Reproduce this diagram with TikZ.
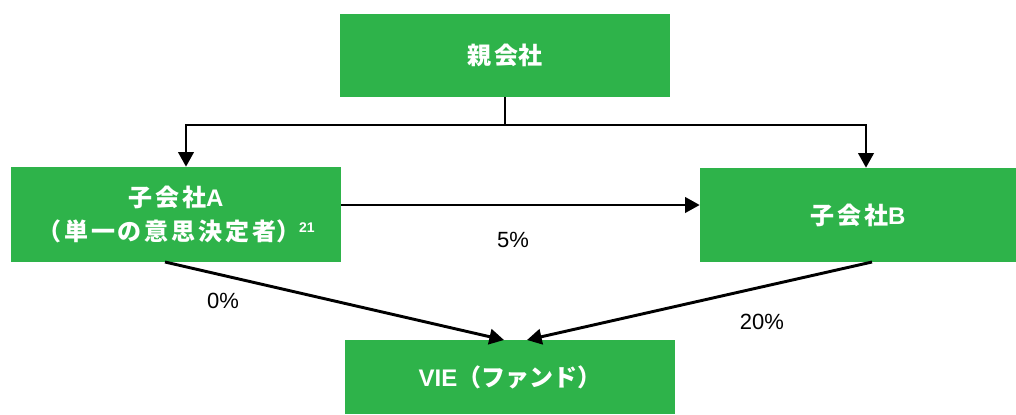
\documentclass[tikz,border=0pt]{standalone}
\usepackage{fontspec}
\setmainfont{Liberation Sans}
\newfontfamily\cjk{Noto Sans CJK JP}
\newfontfamily\cjksp[LetterSpace=12]{Noto Sans CJK JP}
\usetikzlibrary{arrows.meta}
\definecolor{boxgreen}{RGB}{46,179,74}
\begin{document}
\begin{tikzpicture}[x=0.75pt,y=-0.75pt,
  box/.style={fill=boxgreen, draw=none, inner sep=0pt, text=white, align=center,
    font=\fontsize{18}{25.5}\selectfont\bfseries},
  conn/.style={line width=2.2pt},
  arr/.style={conn, -{Triangle[length=11pt,width=11.5pt]}},
  pct/.style={font=\fontsize{16.5}{19}\selectfont, inner sep=0pt}]
\useasboundingbox (0,0) rectangle (1016,414);
% boxes
\node[box, minimum width=247.5pt, minimum height=62.25pt] (parent) at (505,55.5) {{\cjksp 親会}{\cjk 社}};
\node[box, minimum width=247.5pt, minimum height=71.25pt] (A) at (176,214.5)
  {{\cjksp 子会社}A\\{\cjksp （単一の意思決定者}{\cjk ）}\kern-1pt\raisebox{6pt}{\fontsize{10.5}{11}\selectfont 21}};
\node[box, minimum width=237pt, minimum height=70.5pt] (B) at (858,215) {{\cjksp 子会社}B};
\node[box, minimum width=247.5pt, minimum height=55.5pt] (V) at (510,377) {VIE{\cjk （ファンド）}};
% coordinates
\coordinate (jl) at (186,125);
\coordinate (jr) at (866,125);
\coordinate (ab) at (0,205);
\coordinate (a1) at (165,262);
\coordinate (v1) at (504,340);
\coordinate (b1) at (872,262);
\coordinate (v2) at (527,340);
% connectors
\draw[arr] (parent.south) |- (jl) -- (jl |- A.north);
\draw[arr] (parent.south) |- (jr) -- (jr |- B.north);
\draw[arr] (A.east |- ab) -- (B.west |- ab);
\draw[arr] (a1) -- (v1);
\draw[arr] (b1) -- (v2);
% labels
\node[pct] (p5) at (513,240) {5\%};
\node[pct] (p0) at (223,301) {0\%};
\node[pct] (p20) at (762,322) {20\%};
\end{tikzpicture}
\end{document}
